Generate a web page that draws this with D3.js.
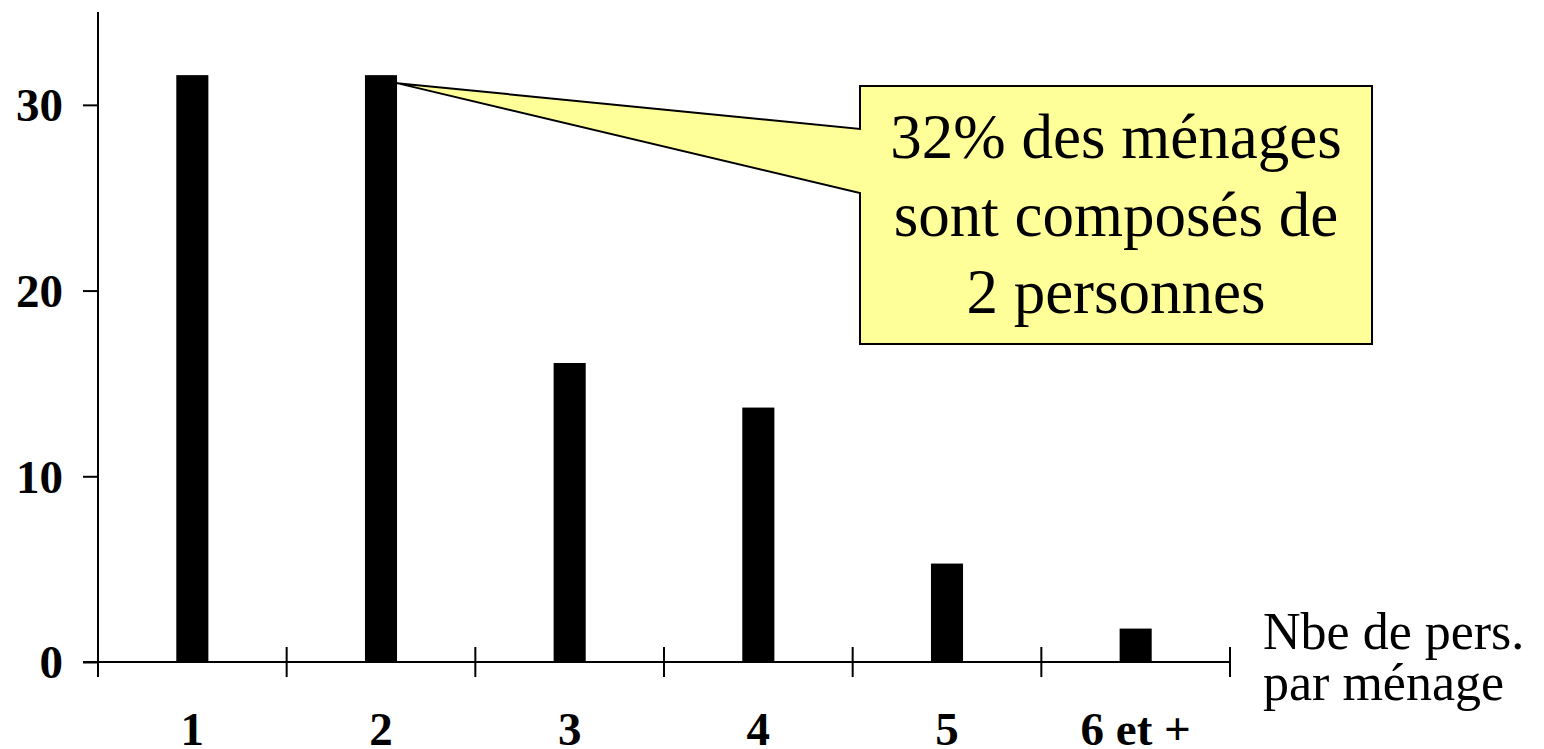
<!DOCTYPE html>
<html>
<head>
<meta charset="utf-8">
<script src="https://cdn.jsdelivr.net/npm/d3@7"></script>
<style>
  body { margin: 0; background: #fff; }
  svg text { font-family: "Liberation Serif", "Times New Roman", serif; fill: #000; }
</style>
</head>
<body>
<svg id="chart" width="1544" height="749"></svg>
<script>
// household size distribution (% of households)
var categories = ["1", "2", "3", "4", "5", "6 et +"];
var values = [31.6, 31.6, 16.1, 13.7, 5.3, 1.8];
var yTicks = [0, 10, 20, 30];
var calloutLines = ["32% des ménages", "sont composés de", "2 personnes"];
var axisTitle = ["Nbe de pers.", "par ménage"];

var svg = d3.select("#chart");

var x = d3.scaleBand()
    .domain(categories)
    .range([98, 1230])
    .padding(0);

var y = d3.scaleLinear()
    .domain([0, 35])
    .range([662, 12]);

var barFrac = 0.17;
function barX(d){ return x(d) + x.bandwidth()*(1-barFrac)/2; }

// bars
svg.append("g")
  .selectAll("rect")
  .data(categories)
  .enter().append("rect")
    .attr("x", function(d){ return barX(d); })
    .attr("width", x.bandwidth()*barFrac)
    .attr("y", function(d, i){ return y(values[i]); })
    .attr("height", function(d, i){ return y(0) - y(values[i]); })
    .attr("fill", "#000");

// y axis
var yAxis = svg.append("g")
    .attr("transform", "translate(98,0)")
    .call(d3.axisLeft(y).tickValues(yTicks).tickSize(15).tickPadding(20).tickSizeOuter(0));
yAxis.select(".domain").attr("stroke", "#000").attr("stroke-width", 2)
    .attr("d", "M0," + y(35) + "V" + y(0));
yAxis.selectAll(".tick line").attr("stroke", "#000").attr("stroke-width", 2);
yAxis.selectAll(".tick text")
    .style("font-family", "'Liberation Serif', 'Times New Roman', serif")
    .style("font-size", "47px").style("font-weight", "bold").attr("dy", "0.34em");

// x axis: ticks at band boundaries, crossing the line
var xg = svg.append("g");
xg.append("line")
    .attr("x1", 83).attr("x2", x.range()[1])
    .attr("y1", y(0)).attr("y2", y(0))
    .attr("stroke", "#000").attr("stroke-width", 2);
var bounds = categories.map(function(d){ return x(d); }).concat([x.range()[1]]);
xg.selectAll("line.tk")
  .data(bounds)
  .enter().append("line")
    .attr("class", "tk")
    .attr("x1", function(d){ return d; }).attr("x2", function(d){ return d; })
    .attr("y1", y(0) - 15).attr("y2", y(0) + 15)
    .attr("stroke", "#000").attr("stroke-width", 2);
xg.selectAll("text")
  .data(categories)
  .enter().append("text")
    .attr("x", function(d){ return x(d) + x.bandwidth()/2; })
    .attr("y", 745)
    .attr("text-anchor", "middle")
    .style("font-size", "47px").style("font-weight", "bold")
    .text(function(d){ return d; });

// axis title
svg.append("text")
    .attr("x", 1263).attr("y", 649)
    .style("font-size", "52px")
  .selectAll("tspan")
  .data(axisTitle)
  .enter().append("tspan")
    .attr("x", 1263)
    .attr("dy", function(d, i){ return i ? 51 : 0; })
    .text(function(d){ return d; });

// callout pointing at bar "2"
var tipX = barX("2") + x.bandwidth()*barFrac;
var tipY = y(values[1]) + 8;
var bx0 = 860, bx1 = 1372, by0 = 86, by1 = 344;
svg.append("path")
    .attr("d", "M" + bx0 + "," + by0 + "H" + bx1 + "V" + by1 + "H" + bx0 +
               "V193L" + tipX + "," + tipY + "L" + bx0 + ",129Z")
    .attr("fill", "#FFFF99")
    .attr("stroke", "#000")
    .attr("stroke-width", 2)
    .attr("stroke-linejoin", "miter");

svg.append("g")
  .selectAll("text")
  .data(calloutLines)
  .enter().append("text")
    .attr("x", (bx0 + bx1)/2)
    .attr("y", function(d, i){ return 158 + i*77.5; })
    .attr("text-anchor", "middle")
    .style("font-size", "63px")
    .text(function(d){ return d; });
</script>
</body>
</html>
